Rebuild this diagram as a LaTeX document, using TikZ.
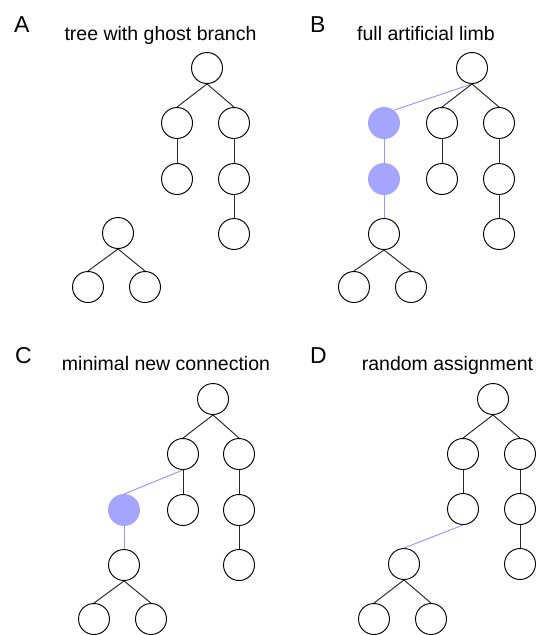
\documentclass[tikz,border=0pt]{standalone}
\usepackage{fontspec}
\setmainfont{Liberation Sans}
\definecolor{limb}{RGB}{165,165,255}
\definecolor{limbline}{RGB}{150,150,255}
\tikzset{
  nd/.style={circle,draw=black,line width=0.95pt,minimum size=31pt,inner sep=0pt,fill=white},
  pnd/.style={circle,draw=limb,fill=limb,line width=0.95pt,minimum size=31pt,inner sep=0pt},
  ed/.style={draw=black!85,line width=0.95pt},
  bed/.style={draw=limbline,line width=0.95pt},
  plabel/.style={anchor=base west,inner sep=0pt,font=\fontsize{23}{23}\selectfont},
  ptitle/.style={anchor=base,inner sep=0pt,font=\fontsize{19.5}{20}\selectfont}
}
\begin{document}
\begin{tikzpicture}[x=1pt,y=-1pt]
\useasboundingbox (0,0) rectangle (537,635);
% ---------- Panel A ----------
\node[plabel] (la) at (14,32) {A};
\node[ptitle] (ta) at (160.5,40.5) {tree with ghost branch};
\node[nd] (a0) at (207,68) {};
\node[nd] (a1) at (177,123) {};
\node[nd] (a2) at (234,123) {};
\node[nd] (a3) at (177,179) {};
\node[nd] (a4) at (234,179) {};
\node[nd] (a5) at (234,234) {};
\node[nd] (ag) at (118,233) {};
\node[nd] (ag1) at (88,287) {};
\node[nd] (ag2) at (145,287) {};
\draw[ed] (a0.south) -- (a1.north);
\draw[ed] (a0.south) -- (a2.north);
\draw[ed] (a1) -- (a3);
\draw[ed] (a2) -- (a4);
\draw[ed] (a4) -- (a5);
\draw[ed] (ag.south) -- (ag1.north);
\draw[ed] (ag.south) -- (ag2.north);
% ---------- Panel B ----------
\node[plabel] (lb) at (310,32) {B};
\node[ptitle] (tb) at (426,40) {full artificial limb};
\node[nd] (b0) at (472,68) {};
\node[pnd] (bp1) at (384,123) {};
\node[nd] (b1) at (442,123) {};
\node[nd] (b2) at (499,123) {};
\node[pnd] (bp2) at (384,179) {};
\node[nd] (b3) at (442,179) {};
\node[nd] (b4) at (499,179) {};
\node[nd] (bg) at (384,234) {};
\node[nd] (b5) at (499,234) {};
\node[nd] (bg1) at (354,287) {};
\node[nd] (bg2) at (411,287) {};
\draw[bed] (b0.south) -- (bp1.53);
\draw[ed] (b0.south) -- (b1.north);
\draw[ed] (b0.south) -- (b2.north);
\draw[bed] (bp1) -- (bp2);
\draw[bed] (bp2) -- (bg);
\draw[ed] (b1) -- (b3);
\draw[ed] (b2) -- (b4);
\draw[ed] (b4) -- (b5);
\draw[ed] (bg.south) -- (bg1.north);
\draw[ed] (bg.south) -- (bg2.north);
% ---------- Panel C ----------
\node[plabel] (lc) at (15,363) {C};
\node[ptitle] (tc) at (166,370.5) {minimal new connection};
\node[nd] (c0) at (213,399) {};
\node[nd] (c1) at (183,454) {};
\node[nd] (c2) at (239,454) {};
\node[pnd] (cp) at (124,510) {};
\node[nd] (c3) at (183,510) {};
\node[nd] (c4) at (239,510) {};
\node[nd] (cg) at (124,565) {};
\node[nd] (c5) at (239,565) {};
\node[nd] (cg1) at (94,619) {};
\node[nd] (cg2) at (151,619) {};
\draw[ed] (c0.south) -- (c1.north);
\draw[ed] (c0.south) -- (c2.north);
\draw[bed] (c1.south) -- (cp.north);
\draw[ed] (c1) -- (c3);
\draw[ed] (c2) -- (c4);
\draw[ed] (c4) -- (c5);
\draw[bed] (cp) -- (cg);
\draw[ed] (cg.south) -- (cg1.north);
\draw[ed] (cg.south) -- (cg2.north);
% ---------- Panel D ----------
\node[plabel] (ld) at (310,363) {D};
\node[ptitle] (td) at (447.5,370.5) {random assignment};
\node[nd] (d0) at (493,399) {};
\node[nd] (d1) at (463,454) {};
\node[nd] (d2) at (520,454) {};
\node[nd] (d3) at (463,509) {};
\node[nd] (d4) at (520,509) {};
\node[nd] (dg) at (404,564) {};
\node[nd] (d5) at (520,564) {};
\node[nd] (dg1) at (374,619) {};
\node[nd] (dg2) at (431,619) {};
\draw[ed] (d0.south) -- (d1.north);
\draw[ed] (d0.south) -- (d2.north);
\draw[ed] (d1) -- (d3);
\draw[ed] (d2) -- (d4);
\draw[ed] (d4) -- (d5);
\draw[bed] (d3.south) -- (dg.north);
\draw[ed] (dg.south) -- (dg1.north);
\draw[ed] (dg.south) -- (dg2.north);
\end{tikzpicture}
\end{document}
